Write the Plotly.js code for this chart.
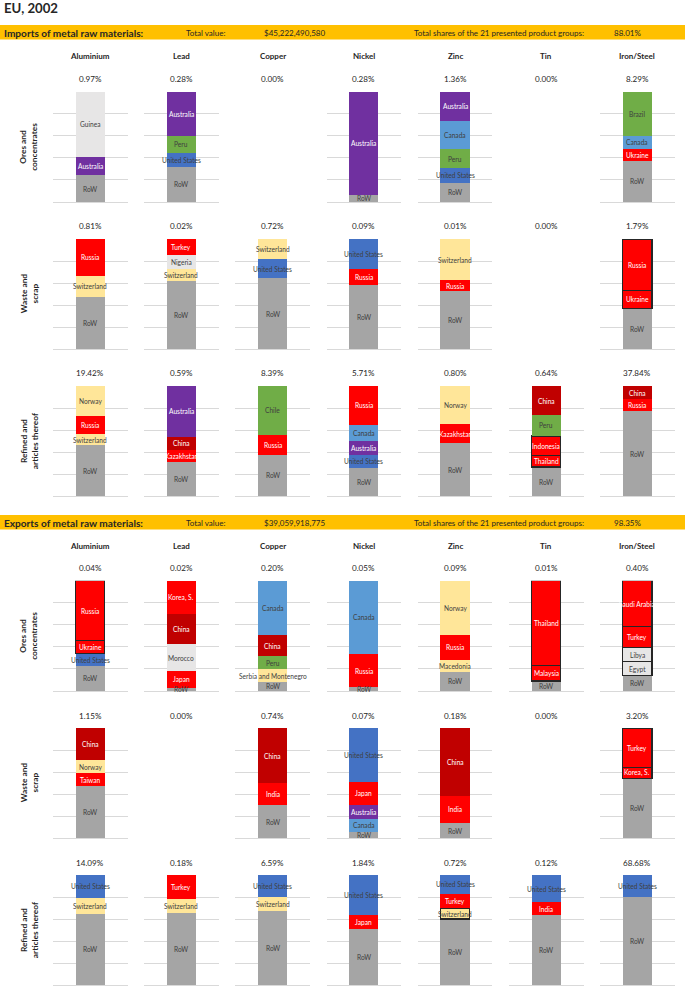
<!DOCTYPE html>
<html><head><meta charset="utf-8">
<script src="https://cdn.plot.ly/plotly-3.0.1.min.js"></script>
<style>html,body{margin:0;padding:0;background:#fff;} #chart{width:685px;height:986px;}</style>
</head><body><div id="chart"></div>
<script>
// ---------------- DATA ----------------
const chartTitle = 'EU, 2002';
const products = ['Aluminium','Lead','Copper','Nickel','Zinc','Tin','Iron/Steel'];
const rowLabels = ['Ores and<br>concentrates','Waste and<br>scrap','Refined and<br>articles thereof'];

const impHeader = 'Imports of metal raw materials:';
const impTotal = '$45,222,490,580';
const impShareAll = '88.01%';
const expHeader = 'Exports of metal raw materials:';
const expTotal = '$39,059,918,775';
const expShareAll = '98.35%';

// share of each product group (per row)
const impOresShare    = ['0.97%','0.28%','0.00%','0.28%','1.36%','0.00%','8.29%'];
const impWasteShare   = ['0.81%','0.02%','0.72%','0.09%','0.01%','0.00%','1.79%'];
const impRefinedShare = ['19.42%','0.59%','8.39%','5.71%','0.80%','0.64%','37.84%'];
const expOresShare    = ['0.04%','0.02%','0.20%','0.05%','0.09%','0.01%','0.40%'];
const expWasteShare   = ['1.15%','0.00%','0.74%','0.07%','0.18%','0.00%','3.20%'];
const expRefinedShare = ['14.09%','0.18%','6.59%','1.84%','0.72%','0.12%','68.68%'];

// partner countries, listed top to bottom, and their shares (%)
const impOresCountries = [
  ['Guinea','Australia','RoW'],
  ['Australia','Peru','United States','RoW'],
  [],
  ['Australia','RoW'],
  ['Australia','Canada','Peru','United States','RoW'],
  [],
  ['Brazil','Canada','Ukraine','RoW']
];
const impOresValues = [
  [59.2,16.6,24.2],
  [39.9,15.7,12.4,32.0],
  [],
  [93.4,6.6],
  [26.7,25.5,17.1,13.2,17.5],
  [],
  [40.2,11.4,10.8,37.6]
];
const impOresOutlined = [[],[],[],[],[],[],[]];

const impWasteCountries = [
  ['Russia','Switzerland','RoW'],
  ['Turkey','Nigeria','Switzerland','RoW'],
  ['Switzerland','United States','RoW'],
  ['United States','Russia','RoW'],
  ['Switzerland','Russia','RoW'],
  [],
  ['Russia','Ukraine','RoW']
];
const impWasteValues = [
  [33.5,19.0,47.5],
  [14.5,12.7,10.6,62.2],
  [18.4,17.2,64.4],
  [27.2,14.8,58.0],
  [37.2,10.0,52.8],
  [],
  [46.5,16.3,37.2]
];
const impWasteOutlined = [[],[],[],[],[],[],['Russia','Ukraine']];

const impRefinedCountries = [
  ['Norway','Russia','Switzerland','RoW'],
  ['Australia','China','Kazakhstan','RoW'],
  ['Chile','Russia','RoW'],
  ['Russia','Canada','Australia','United States','RoW'],
  ['Norway','Kazakhstan','RoW'],
  ['China','Peru','Indonesia','Thailand','RoW'],
  ['China','Russia','RoW']
];
const impRefinedValues = [
  [26.9,16.6,10.0,46.5],
  [45.9,12.1,10.9,31.1],
  [44.1,18.1,37.8],
  [35.3,14.5,12.7,11.8,25.7],
  [34.7,17.2,48.1],
  [26.3,19.0,17.5,10.6,26.6],
  [11.8,10.6,77.6]
];
const impRefinedOutlined = [[],[],[],[],[],['Indonesia','Thailand'],[]];

const expOresCountries = [
  ['Russia','Ukraine','United States','RoW'],
  ['Korea, S.','China','Morocco','Japan','RoW'],
  ['Canada','China','Peru','Serbia and Montenegro','RoW'],
  ['Canada','Russia','RoW'],
  ['Norway','Russia','Macedonia','RoW'],
  ['Thailand','Malaysia','RoW'],
  ['Saudi Arabia','Turkey','Libya','Egypt','RoW']
];
const expOresValues = [
  [54.2,11.8,10.9,23.1],
  [30.0,27.3,24.8,14.8,3.1],
  [49.4,19.1,11.8,11.5,8.2],
  [66.7,29.7,3.6],
  [48.8,23.3,10.3,17.6],
  [77.0,13.9,9.1],
  [41.8,18.8,13.0,12.4,14.0]
];
const expOresOutlined = [['Russia','Ukraine'],[],[],[],[],['Thailand','Malaysia'],['Saudi Arabia','Turkey','Libya','Egypt']];

const expWasteCountries = [
  ['China','Norway','Taiwan','RoW'],
  [],
  ['China','India','RoW'],
  ['United States','Japan','Australia','Canada','RoW'],
  ['China','India','RoW'],
  [],
  ['Turkey','Korea, S.','RoW']
];
const expWasteValues = [
  [29.1,12.1,11.2,47.6],
  [],
  [50.0,19.7,30.3],
  [48.5,20.9,13.3,11.2,6.1],
  [61.2,24.8,14.0],
  [],
  [35.5,10.3,54.2]
];
const expWasteOutlined = [[],[],[],[],[],[],['Turkey','Korea, S.']];

const expRefinedCountries = [
  ['United States','Switzerland','RoW'],
  ['Turkey','Switzerland','RoW'],
  ['United States','Switzerland','RoW'],
  ['United States','Japan','RoW'],
  ['United States','Turkey','Switzerland','RoW'],
  ['United States','India','RoW'],
  ['United States','RoW']
];
const expRefinedValues = [
  [20.8,14.2,65.0],
  [21.5,12.7,65.8],
  [19.9,13.0,67.1],
  [36.3,12.4,51.3],
  [17.2,13.0,9.7,60.1],
  [24.5,11.8,63.7],
  [19.6,80.4]
];
const expRefinedOutlined = [[],[],[],[],['Switzerland'],[],[]];

// ---------------- STYLE ----------------
const FONT = 'Lato, "Open Sans", sans-serif';
const W = 685, H = 986;
const colX0 = 53, colStep = 91.2, colW = 74.5;
const rowTops = [91.7, 239, 386, 580.7, 728, 875], rowH = 110.3;
const band = [{y0:25, y1:39.5, ty:33}, {y0:515, y1:529.5, ty:523}];
const titleY = [56, 545.7];

const colorTable = {
  'RoW':'#A5A5A5',
  'Guinea':'#E7E6E6','Nigeria':'#E7E6E6','Morocco':'#E7E6E6','Libya':'#E7E6E6','Egypt':'#E7E6E6',
  'Australia':'#7030A0','United States':'#4472C4','Canada':'#5B9BD5',
  'Peru':'#70AD47','Brazil':'#70AD47','Chile':'#70AD47',
  'China':'#C00000',
  'Switzerland':'#FFE699','Norway':'#FFE699','Macedonia':'#FFE699','Serbia and Montenegro':'#FFE699'
};
const colorOf = c => colorTable[c] || '#FF0000';
const textColorOf = c => {
  const col = colorOf(c);
  return (col === '#FF0000' || col === '#C00000' || col === '#7030A0') ? '#FFFFFF' : '#404040';
};

const rows = [
  {c:impOresCountries, v:impOresValues, o:impOresOutlined, s:impOresShare},
  {c:impWasteCountries, v:impWasteValues, o:impWasteOutlined, s:impWasteShare},
  {c:impRefinedCountries, v:impRefinedValues, o:impRefinedOutlined, s:impRefinedShare},
  {c:expOresCountries, v:expOresValues, o:expOresOutlined, s:expOresShare},
  {c:expWasteCountries, v:expWasteValues, o:expWasteOutlined, s:expWasteShare},
  {c:expRefinedCountries, v:expRefinedValues, o:expRefinedOutlined, s:expRefinedShare}
];

const px = x => x / W;
const py = y => 1 - y / H;
const data = [];
const annotations = [];
const shapes = [];
const layout = {
  width:W, height:H, margin:{l:0,r:0,t:0,b:0},
  paper_bgcolor:'#FFFFFF', plot_bgcolor:'rgba(0,0,0,0)',
  barmode:'stack', showlegend:false,
  font:{family:FONT, color:'#262626'},
  annotations, shapes
};

function txt(x, y, text, size, opts) {
  annotations.push(Object.assign({xref:'paper', yref:'paper', x:px(x), y:py(y), text, showarrow:false,
    font:{family:FONT, size, color:'#262626'}, xanchor:'center', yanchor:'middle'}, opts || {}));
}

// title
txt(2, 8, '<b>' + chartTitle + '</b>', 13.2, {xanchor:'left'});

// header bands
[[impHeader, impTotal, impShareAll], [expHeader, expTotal, expShareAll]].forEach((h, b) => {
  shapes.push({type:'rect', xref:'paper', yref:'paper', x0:0, x1:1, y0:py(band[b].y1), y1:py(band[b].y0),
    fillcolor:'#FFC000', line:{width:0}, layer:'below'});
  const ty = band[b].ty;
  txt(2, ty, '<b>' + h[0] + '</b>', 10.1, {xanchor:'left'});
  txt(184, ty, 'Total value:', 8.0, {xanchor:'left'});
  txt(262, ty, h[1], 8.0, {xanchor:'left'});
  txt(411.5, ty, 'Total shares of the 21 presented product groups:', 8.0, {xanchor:'left'});
  txt(611.5, ty, h[2], 8.0, {xanchor:'left'});
  products.forEach((p, i) => txt(colX0 + i*colStep + colW/2, titleY[b], '<b>' + p + '</b>', 8.0));
});

let n = 0;
rows.forEach((row, r) => {
  const top = rowTops[r];
  txt(29, top + rowH/2, '<b>' + rowLabels[r % 3] + '</b>', 8.3, {textangle:-90});
  products.forEach((p, i) => {
    const x0 = colX0 + i*colStep;
    txt(x0 + colW/2, top - 12.5, row.s[i], 8.1);
    const cs = row.c[i], vs = row.v[i];
    if (!cs.length) return;
    n++;
    const sfx = n === 1 ? '' : String(n);
    const xa = 'x' + sfx, ya = 'y' + sfx;
    layout['xaxis' + sfx] = {domain:[px(x0), px(x0 + colW)], range:[-0.5, 0.5], visible:false, anchor:ya, fixedrange:true};
    layout['yaxis' + sfx] = {domain:[py(top + rowH), py(top)], range:[0, 100], tick0:0, dtick:20,
      showgrid:true, gridcolor:'#D9D9D9', gridwidth:1, zeroline:true, zerolinecolor:'#D9D9D9', zerolinewidth:1,
      showticklabels:false, ticks:'', showline:false, anchor:xa, fixedrange:true};
    let cum = 0;
    for (let k = cs.length - 1; k >= 0; k--) {
      const c = cs[k], v = vs[k];
      const outlined = row.o[i].includes(c);
      data.push({type:'bar', x:[0], y:[v], xaxis:xa, yaxis:ya, width:0.393,
        marker:{color:colorOf(c), line:{color:'#262626', width: outlined ? 1.2 : 0}},
        hoverinfo:'skip', showlegend:false});
      annotations.push({xref:xa, yref:ya, x:0, y:cum + v/2, text:c, showarrow:false,
        font:{family:FONT, size:6.6, color:textColorOf(c)}, xanchor:'center', yanchor:'middle'});
      cum += v;
    }
  });
});

Plotly.newPlot('chart', data, layout, {displayModeBar:false, staticPlot:true});
</script>
</body></html>
